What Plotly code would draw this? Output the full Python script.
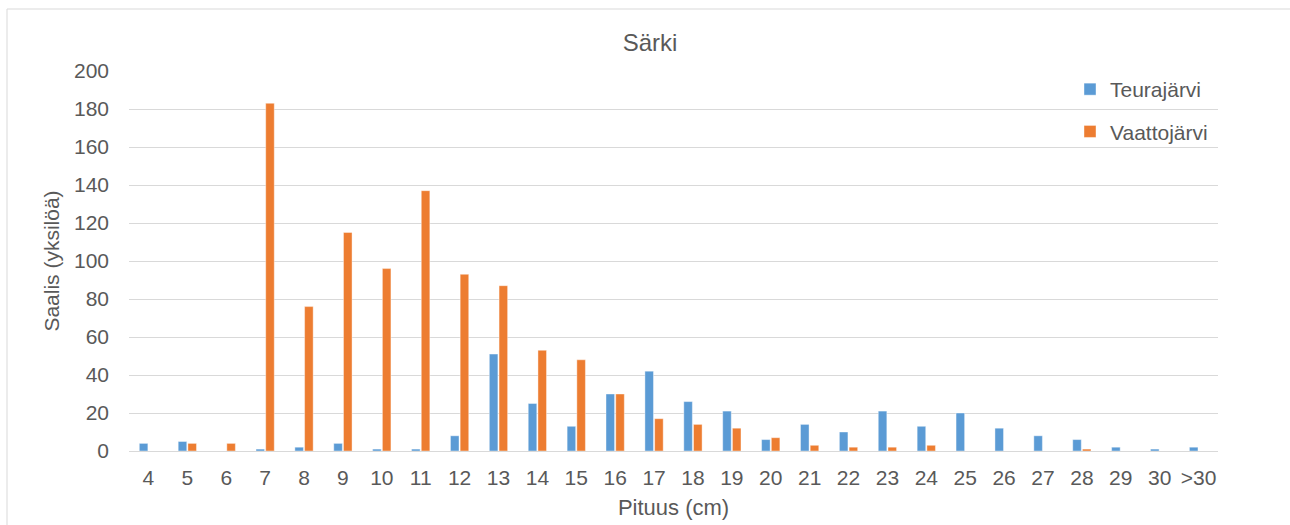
import plotly.graph_objects as go

categories = ["4", "5", "6", "7", "8", "9", "10", "11", "12", "13", "14", "15", "16", "17",
              "18", "19", "20", "21", "22", "23", "24", "25", "26", "27", "28", "29", "30", ">30"]
teurajarvi = [4, 5, 0, 1, 2, 4, 1, 1, 8, 51, 25, 13, 30, 42, 26, 21, 6, 14, 10, 21, 13, 20, 12, 8, 6, 2, 1, 2]
vaattojarvi = [0, 4, 4, 183, 76, 115, 96, 137, 93, 87, 53, 48, 30, 17, 14, 12, 7, 3, 2, 2, 3, 0, 0, 0, 1, 0, 0, 0]

W, H = 1290, 525
L, R, T, B = 129, 1218, 71, 451

fig = go.Figure()
fig.add_trace(go.Bar(x=categories, y=teurajarvi, name="Teurajärvi", legendgroup="a",
                     marker=dict(color="#5B9BD5", line=dict(color="rgba(255,255,255,0.5)", width=0.8))))
fig.add_trace(go.Bar(x=categories, y=vaattojarvi, name="Vaattojärvi", legendgroup="b",
                     marker=dict(color="#ED7D31", line=dict(color="rgba(255,255,255,0.5)", width=0.8))))

font_family = "Liberation Sans, Arial, sans-serif"
grey = "#595959"

pw = R - L
ph = B - T

fig.update_layout(
    width=W, height=H,
    margin=dict(l=L, r=W - R, t=T, b=H - B, pad=0, autoexpand=False),
    paper_bgcolor="white", plot_bgcolor="white",
    font=dict(family=font_family, color=grey, size=21),
    title=dict(text="Särki", x=650 / W, xanchor="center", y=1 - 43 / H, yanchor="middle",
               font=dict(size=24, color=grey)),
    barmode="group", bargap=0.5, bargroupgap=0.12,
    showlegend=True,
    legend=dict(x=(1070 - L) / pw, xanchor="left", y=(B - 69) / ph, yanchor="top",
                tracegroupgap=12, font=dict(size=21, color=grey), bgcolor="rgba(0,0,0,0)"),
    xaxis=dict(type="category", showgrid=False, showline=True, linecolor="#D9D9D9", linewidth=1,
               ticks="", ticklabelstandoff=8, tickfont=dict(size=21), automargin=False,
               title=dict(text="Pituus (cm)", standoff=11, font=dict(size=22, color=grey))),
    yaxis=dict(range=[0, 200], dtick=20, showgrid=True, gridcolor="#D9D9D9", gridwidth=1,
               zeroline=False, showline=False, ticks="", ticklabelstandoff=19, tickfont=dict(size=21),
               automargin=False,
               title=dict(text="Saalis (yksilöä)", standoff=8, font=dict(size=21, color=grey))),
    shapes=[dict(type="rect", xref="paper", yref="paper",
                 x0=(7 - L) / pw, x1=(1300 - L) / pw, y0=(B - 540) / ph, y1=(B - 9) / ph,
                 line=dict(color="#D9D9D9", width=1), fillcolor="rgba(0,0,0,0)", layer="below")],
)

fig.write_html("out.html", config={"displayModeBar": False},
               post_script="document.body.style.margin='0';")
